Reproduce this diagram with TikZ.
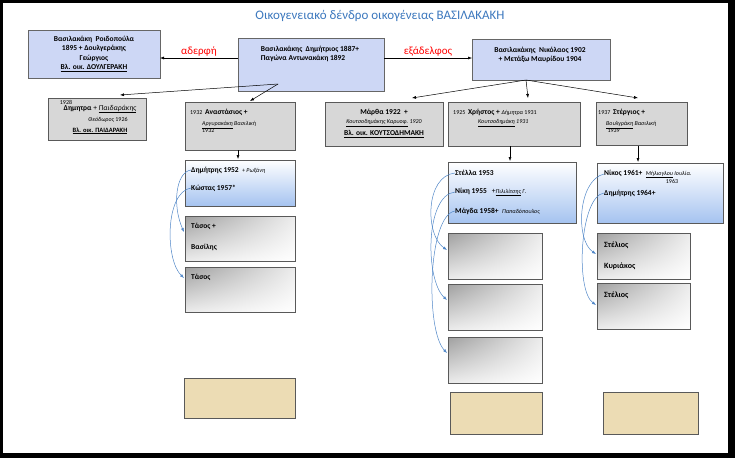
\documentclass[tikz,border=0pt]{standalone}
\usepackage{fontspec}
\setmainfont{Carlito}
\usetikzlibrary{arrows.meta,shadings}
\definecolor{tblue}{RGB}{60,120,190}
\definecolor{pblue}{RGB}{205,215,245}
\definecolor{gbox}{RGB}{215,215,215}
\definecolor{parch}{RGB}{236,220,180}
\definecolor{abl}{RGB}{80,135,200}
\definecolor{lbl}{RGB}{165,195,240}
\begin{document}
\begin{tikzpicture}[x=1pt,y=-1pt,
 pbox/.style={draw=gray!80!black,fill=pblue,line width=0.8pt},
 gb/.style={draw=gray!70!black,fill=gbox,line width=0.8pt},
 bgrad/.style={draw=gray!70!black,line width=0.6pt,top color=white,bottom color=lbl},
 ggrad/.style={upper left=gray!75,lower right=white,upper right=gray!15,lower left=gray!15},
 gframe/.style={draw=gray!70!black,line width=0.6pt},
 pch/.style={draw=gray!70!black,fill=parch,line width=0.8pt},
 ar/.style={-{Latex[length=4pt,width=3pt]},line width=0.5pt},
 bar/.style={-{Latex[length=4pt,width=3pt]},draw=abl,line width=0.5pt},
 t/.style={font=\fontsize{7.5}{9.5}\selectfont\bfseries,align=center,inner sep=0},
 s/.style={font=\fontsize{6}{7}\selectfont,inner sep=0},
 lab/.style={font=\fontsize{11}{13}\selectfont,text=red,inner sep=0}]
\fill[black] (0,0) rectangle (735,458);
\fill[white] (3,3) rectangle (728,453);
\useasboundingbox (0,0) rectangle (735,458);
\node[font=\fontsize{13}{15}\selectfont,text=tblue] (title) at (380,16) {Οικογενειακό δένδρο οικογένειας ΒΑΣΙΛΑΚΑΚΗ};
% generation 1
\draw[pbox] (28,30) rectangle (160,78); \coordinate (r) at (160,58);
\node[t] (rt) at (94,54) {Βασιλακάκη\ \ Ροιδοπούλα\\1895 + Δουλγεράκης\\Γεώργιος\\\underline{Βλ. οικ. ΔΟΥΛΓΕΡΑΚΗ}};
\draw[pbox] (238,38) rectangle (384,91);
\node[t,align=left] (dt) at (310,54) {Βασιλακάκης\ \ Δημήτριος 1887+\\Παγώνα\ Αντωνακάκη 1892};
\draw[pbox] (472,39) rectangle (610,80);
\node[t] (nt) at (540,55) {Βασιλακάκης\ \ Νικόλαος 1902\\+ Μετάξω Μαυρίδου\ 1904};
\coordinate (dl) at (238,58); \coordinate (dr) at (384,58); \coordinate (nl) at (472,58);
\draw[ar] (dl) -- (r) node[lab,midway,above=1pt] (l1) {αδερφή};
\draw[ar] (dr) -- (nl) node[lab,midway,above=1pt] (l2) {εξάδελφος};
% generation 2
\draw[gb] (48,98) rectangle (146,140);
\node[s] (d0) at (66,102) {1928};
\node[t] (d1) at (100,109) {Δημητρα\ \mdseries + \itshape\underline{Παιδαράκης}};
\node[s] (d2) at (108,120) {\itshape Θεόδωρος\upshape\ 1926};
\node[t,font=\fontsize{6.5}{7}\selectfont\bfseries] (d3) at (100,131) {\underline{Βλ. οικ. ΠΑΙΔΑΡΑΚΗ}};
\draw[gb] (185,102) rectangle (295,150);
\node[s,anchor=west] (a1) at (190,112) {1932\ \ \fontsize{7.5}{8}\selectfont\bfseries Αναστάσιος +};
\node[s,anchor=west,align=left] (a2) at (202,127) {\itshape\underline{Αργυρακάκη} Βασιλική\\1932};
\draw[gb] (325,102) rectangle (443,146);
\node[t] (m1) at (384,112) {Μάρθα 1922\ \ +};
\node[s] (m2) at (384,123) {\itshape\underline{Κουτσοδημάκης Καρυοφ.} 1920};
\node[t] (m3) at (384,134) {\underline{Βλ. οικ. ΚΟΥΤΣΟΔΗΜΑΚΗ}};
\draw[gb] (448,102) rectangle (580,146);
\node[s,anchor=west] (c1) at (453,112) {1925\ \ \fontsize{7.5}{8}\selectfont\bfseries Χρήστος + \mdseries\itshape\fontsize{6}{7}\selectfont Δήμητρα\upshape\ 1931};
\node[s,anchor=west] (c2) at (478,123) {\itshape\underline{Κουτσοδημάκη} 1931};
\draw[gb] (596,102) rectangle (687,145);
\node[s,anchor=west] (g1) at (598,112) {1937\ \ \fontsize{7.5}{8}\selectfont\bfseries Στέργιος +};
\node[s,anchor=west,align=left] (g2) at (606,127) {\itshape\underline{Βουλγράκη} Βασιλική\\\upshape\ 1939};
\coordinate (db) at (278,84);
\draw[ar] (db) -- (120,95);
\draw[ar] (db) -- (250,101);
\coordinate (nb) at (526,80);
\draw[ar] (nb) -- (412,98);
\draw[ar] (nb) -- (528,98);
\draw[ar] (nb) -- (638,98);
% generation 3
\draw[bgrad] (185,160) rectangle (295,206);
\node[t,anchor=west] (k1) at (191,170) {Δημήτρης 1952\ \ \mdseries\itshape\fontsize{6}{6}\selectfont + Ρωξάνη};
\node[t,anchor=west] (k2) at (191,188) {Κώστας 1957*};
\draw[ar] (238,150) -- (238,159);
\shade[ggrad] (185,216) rectangle (295,261); \draw[gframe] (185,216) rectangle (295,261);
\node[t,anchor=west] (k3) at (191,226) {Τάσος +};
\node[t,anchor=west] (k4) at (191,247) {Βασίλης};
\shade[ggrad] (185,267) rectangle (295,312); \draw[gframe] (185,267) rectangle (295,312);
\node[t,anchor=west] (k5) at (191,277) {Τάσος};
\draw[bar] (k1.west) .. controls (176,172) and (172,205) .. (184,232);
\draw[bar] (k2.west) .. controls (165,192) and (165,260) .. (184,278);
\draw[bgrad] (448,162) rectangle (576,223);
\node[t,anchor=west] (s1) at (455,173) {Στέλλα 1953};
\node[t,anchor=west] (s2) at (455,192) {Νίκη 1955\ \ \ \mdseries +\itshape\fontsize{6}{6}\selectfont\underline{Πιλιλίτσης} Γ.};
\node[t,anchor=west] (s3) at (455,211) {Μάγδα 1958+\ \ \mdseries\itshape\fontsize{6}{6}\selectfont Παπαδόπουλος};
\draw[ar] (510,146) -- (510,161);
\foreach \y in {233,284,337}{\shade[ggrad] (448,\y) rectangle (542,\y+46); \draw[gframe] (448,\y) rectangle (542,\y+46);}
\draw[bar] (s1.west) .. controls (425,176) and (425,235) .. (447,250);
\draw[bar] (s2.west) .. controls (425,195) and (425,280) .. (447,300);
\draw[bar] (s3.west) .. controls (428,215) and (425,330) .. (447,353);
\draw[bgrad] (597,163) rectangle (723,223);
\node[t,anchor=west] (n1) at (604,174) {Νίκος 1961+\ \ \mdseries\itshape\fontsize{6}{6}\selectfont\underline{Μήλιογλου} Ιουλία.};
\node[s] (n1b) at (672,181) {1963};
\node[t,anchor=west] (n2) at (604,193) {Δημήτρης 1964+};
\draw[ar] (638,146) -- (638,162);
\foreach \y in {233,283}{\shade[ggrad] (597,\y) rectangle (690,\y+46); \draw[gframe] (597,\y) rectangle (690,\y+46);}
\node[t,anchor=west,font=\fontsize{8}{9}\selectfont\bfseries] (e1) at (604,245) {Στέλιος};
\node[t,anchor=west,font=\fontsize{8}{9}\selectfont\bfseries] (e2) at (604,266) {Κυριάκος};
\node[t,anchor=west,font=\fontsize{8}{9}\selectfont\bfseries] (e3) at (604,295) {Στέλιος};
\draw[bar] (n1.west) .. controls (578,180) and (575,240) .. (596,254);
\draw[bar] (n2.west) .. controls (580,196) and (575,290) .. (596,305);
% parchment
\draw[pch] (184,378) rectangle (295,418);
\draw[pch] (450,392) rectangle (542,434);
\draw[pch] (603,392) rectangle (698,434);
\end{tikzpicture}
\end{document}
